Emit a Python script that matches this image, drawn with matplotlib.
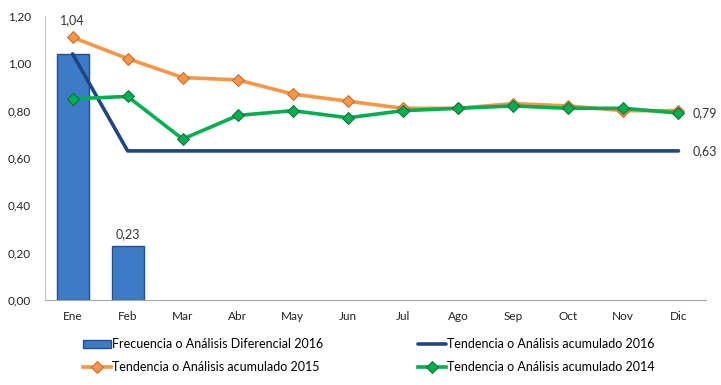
import matplotlib
matplotlib.use("Agg")
import matplotlib.pyplot as plt
import numpy as np
from matplotlib.ticker import FuncFormatter

# -- Data -------------------------------------------------------------------
MONTHS = ["Ene", "Feb", "Mar", "Abr", "May", "Jun",
          "Jul", "Ago", "Sep", "Oct", "Nov", "Dic"]
FREQ_2016 = [1.04, 0.23]                       # only Ene, Feb reported
ACUM_2016 = [1.04, 0.63, 0.63, 0.63, 0.63, 0.63,
             0.63, 0.63, 0.63, 0.63, 0.63, 0.63]
ACUM_2015 = [1.11, 1.02, 0.94, 0.93, 0.87, 0.84,
             0.81, 0.81, 0.83, 0.82, 0.80, 0.80]
ACUM_2014 = [0.85, 0.86, 0.68, 0.78, 0.80, 0.77,
             0.80, 0.81, 0.82, 0.81, 0.81, 0.79]
YTICKS = [0.0, 0.2, 0.4, 0.6, 0.8, 1.0, 1.2]

# -- Colours ----------------------------------------------------------------
C_BAR = "#3C7BC6"
C_BAR_EDGE = "#24508A"
C_NAVY = "#1F4683"
C_ORANGE = "#F79646"
C_ORANGE_EDGE = "#C0692A"
C_GREEN = "#00B050"
C_GREEN_EDGE = "#0F6B35"

plt.rcParams["font.family"] = ["Lato", "DejaVu Sans"]

fig = plt.figure(figsize=(7.21, 3.85), dpi=100)
ax = fig.add_axes([45 / 721, 1 - 300 / 385, 661 / 721, 284 / 385])

x = np.arange(len(MONTHS))
fmt = lambda v: f"{v:.2f}".replace(".", ",")

bars = ax.bar(x[:len(FREQ_2016)], FREQ_2016, 0.58, color=C_BAR,
              edgecolor=C_BAR_EDGE, linewidth=1.0, zorder=2,
              label="Frecuencia o Análisis Diferencial 2016")

ax.plot(x, ACUM_2015, color=C_ORANGE, linewidth=2.6, marker="D",
        markersize=6.5, markerfacecolor=C_ORANGE,
        markeredgecolor=C_ORANGE_EDGE, markeredgewidth=0.7, zorder=3,
        label="Tendencia o Análisis acumulado 2015")
ax.plot(x, ACUM_2016, color=C_NAVY, linewidth=2.6, zorder=4,
        solid_capstyle="round",
        label="Tendencia o Análisis acumulado 2016")
ax.plot(x, ACUM_2014, color=C_GREEN, linewidth=2.6, marker="D",
        markersize=6.5, markerfacecolor=C_GREEN,
        markeredgecolor=C_GREEN_EDGE, markeredgewidth=0.7, zorder=5,
        label="Tendencia o Análisis acumulado 2014")

# data labels
for xi, v in zip(x, FREQ_2016):
    ax.annotate(fmt(v), (xi, v), xytext=(0, 4 if xi else 20),
                textcoords="offset points", ha="center", va="bottom",
                fontsize=9, color="#333333")
ax.annotate(fmt(ACUM_2014[-1]), (x[-1], ACUM_2014[-1]), xytext=(10, 0),
            textcoords="offset points", ha="left", va="center",
            fontsize=9, color="#333333")
ax.annotate(fmt(ACUM_2016[-1]), (x[-1], ACUM_2016[-1]), xytext=(10, 0),
            textcoords="offset points", ha="left", va="center",
            fontsize=9, color="#333333")

ax.set_xlim(-0.5, len(MONTHS) - 0.5)
ax.set_ylim(0, 1.2)
ax.set_yticks(YTICKS)
ax.yaxis.set_major_formatter(FuncFormatter(lambda v, _: fmt(v)))
ax.set_xticks(x)
ax.set_xticklabels(MONTHS)
ax.tick_params(axis="both", length=0, labelsize=8.5, colors="#222222")
ax.tick_params(axis="x", pad=8)
ax.tick_params(axis="y", pad=10)
for s in ("top", "right"):
    ax.spines[s].set_visible(False)
ax.spines["left"].set_color("#C8C8C8")
ax.spines["bottom"].set_color("#A6A6A6")

handles, labels = ax.get_legend_handles_labels()
order = [labels.index("Frecuencia o Análisis Diferencial 2016"),
         labels.index("Tendencia o Análisis acumulado 2015"),
         labels.index("Tendencia o Análisis acumulado 2016"),
         labels.index("Tendencia o Análisis acumulado 2014")]
fig.legend([handles[i] for i in order], [labels[i] for i in order],
           ncol=2, loc="upper left", bbox_to_anchor=(77 / 721, 1 - 332 / 385),
           frameon=False, fontsize=9, handlelength=2.2, handletextpad=0.1,
           columnspacing=7.6, labelspacing=0.85, borderpad=0)

fig.savefig("out.png", dpi=100, facecolor="white")
